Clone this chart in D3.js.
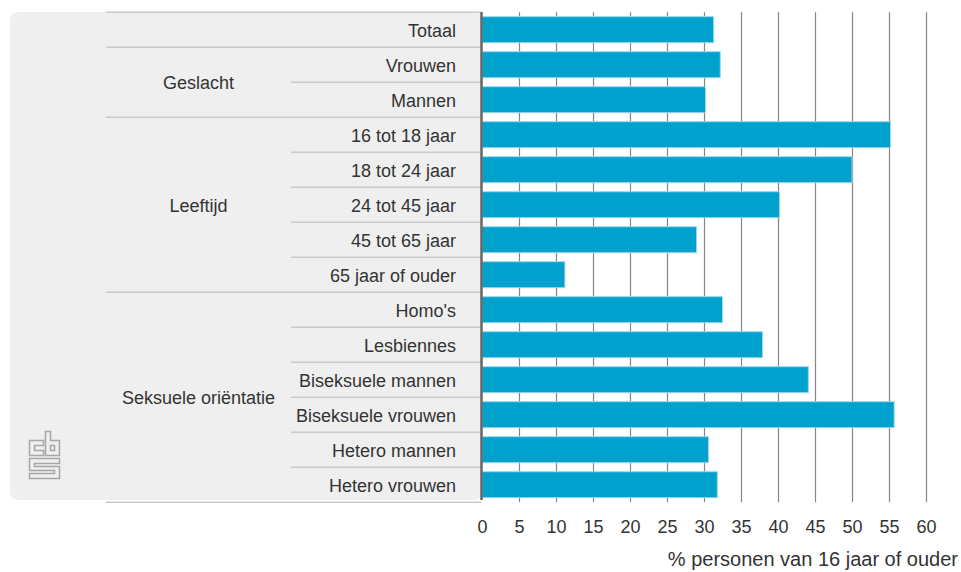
<!DOCTYPE html>
<html>
<head>
<meta charset="utf-8">
<script src="https://cdn.jsdelivr.net/npm/d3@7"></script>
<style>
	body { margin: 0; background: #fff; }
	svg { display: block; font-family: "Liberation Sans", Arial, sans-serif; }
</style>
</head>
<body>
<svg id="chart" width="961" height="572"></svg>
<script>
// data
const groups = [
	{ name: '', items: [ 'Totaal' ] },
	{ name: 'Geslacht', items: [ 'Vrouwen', 'Mannen' ] },
	{ name: 'Leeftijd', items: [ '16 tot 18 jaar', '18 tot 24 jaar', '24 tot 45 jaar', '45 tot 65 jaar', '65 jaar of ouder' ] },
	{ name: 'Seksuele oriëntatie', items: [ "Homo's", 'Lesbiennes', 'Biseksuele mannen', 'Biseksuele vrouwen', 'Hetero mannen', 'Hetero vrouwen' ] }
];
const categories = [ 'Totaal', 'Vrouwen', 'Mannen', '16 tot 18 jaar', '18 tot 24 jaar', '24 tot 45 jaar', '45 tot 65 jaar', '65 jaar of ouder',
	"Homo's", 'Lesbiennes', 'Biseksuele mannen', 'Biseksuele vrouwen', 'Hetero mannen', 'Hetero vrouwen' ];
const values = [ 31.3, 32.2, 30.2, 55.2, 50.0, 40.2, 29.0, 11.2, 32.5, 37.9, 44.1, 55.7, 30.6, 31.8 ];
const tickValues = [ 0, 5, 10, 15, 20, 25, 30, 35, 40, 45, 50, 55, 60 ];
const axisTitle = '% personen van 16 jaar of ouder';

const svg = d3.select('#chart');
const plotTop = 12.2, plotBottom = 502.2;
const labelRight = 456, groupLeft = 106, itemLeft = 291;
const textColor = '#333';

let x = d3.scaleLinear()
	.domain([ 0, 60 ])
	.range([ 482, 926 ]);
let y = d3.scaleBand()
	.domain(categories)
	.range([ plotTop, plotBottom ])
	.paddingInner(9 / 35)
	.paddingOuter(4.5 / 35);
let step = y.step();

// grey label panel
svg.append('rect')
	.attr('x', 10)
	.attr('y', 12)
	.attr('width', 472)
	.attr('height', 488)
	.attr('rx', 8)
	.style('fill', '#efefef');

// cbs logo
svg.append('path')
	.attr('transform', 'translate(29.5,431.5)')
	.attr('d', 'M14,9H0V24H14V19H5V14H14Z' +
		'M16,0H21V9H30V24H16Z M21,14H25V19H21Z' +
		'M0,27H30V32H5V35H30V47H0V42H25V39H0Z')
	.style('fill', 'none')
	.style('stroke', '#a6a6a6')
	.style('stroke-width', 1.5);

// separators between rows and groups
let lines = [ { y: plotTop, x1: groupLeft } ];
groups.forEach(function(g) {
	g.items.forEach(function(item, i) {
		let isLast = i == g.items.length - 1;
		lines.push({ y: y(item) - y.paddingOuter() * step + step, x1: isLast ? groupLeft : itemLeft });
	});
});
lines.forEach(function(l) {
	svg.append('line')
		.attr('x1', l.x1)
		.attr('x2', 481)
		.attr('y1', l.y)
		.attr('y2', l.y)
		.style('stroke', '#c9c9c9')
		.style('stroke-width', 1.5);
});

// row labels
svg.append('g')
	.selectAll('text')
	.data(categories)
	.join('text')
	.attr('x', labelRight)
	.attr('y', d => y(d) + y.bandwidth() / 2)
	.attr('dy', '0.38em')
	.attr('text-anchor', 'end')
	.style('font-size', '18px')
	.style('fill', textColor)
	.text(d => d);

// group labels
groups.filter(g => g.name != '').forEach(function(g) {
	let y0 = y(g.items[0]);
	let y1 = y(g.items[g.items.length - 1]) + y.bandwidth();
	svg.append('text')
		.attr('x', (groupLeft + itemLeft) / 2)
		.attr('y', (y0 + y1) / 2)
		.attr('dy', '0.38em')
		.attr('text-anchor', 'middle')
		.style('font-size', '18px')
		.style('fill', textColor)
		.text(g.name);
});

// vertical gridlines
let grid = svg.append('g')
	.attr('transform', 'translate(0,' + plotBottom + ')')
	.call(d3.axisBottom(x).tickValues(tickValues.slice(1)).tickSize(-(plotBottom - plotTop)).tickFormat(''));
grid.select('.domain').remove();
grid.selectAll('line')
	.style('stroke', '#858585')
	.style('stroke-width', 1.2);

// bars
svg.append('g')
	.selectAll('rect')
	.data(categories)
	.join('rect')
	.attr('x', x(0))
	.attr('y', d => y(d))
	.attr('width', (d, i) => x(values[i]) - x(0))
	.attr('height', y.bandwidth())
	.style('fill', '#00a1cd')
	.style('stroke', '#9fd8ec')
	.style('stroke-width', 1);

// value axis line
svg.append('line')
	.attr('x1', 481.5)
	.attr('x2', 481.5)
	.attr('y1', 12)
	.attr('y2', 500)
	.style('stroke', '#666')
	.style('stroke-width', 2.5);

// tick labels
let axis = svg.append('g')
	.attr('transform', 'translate(0,' + plotBottom + ')')
	.call(d3.axisBottom(x).tickValues(tickValues).tickSize(0).tickPadding(18));
axis.select('.domain').remove();
axis.selectAll('text')
	.style('font-family', '"Liberation Sans", Arial, sans-serif')
	.style('font-size', '18px')
	.style('fill', textColor);

svg.append('text')
	.attr('x', 958)
	.attr('y', 559)
	.attr('dy', '0.36em')
	.attr('text-anchor', 'end')
	.style('font-size', '20px')
	.style('fill', textColor)
	.text(axisTitle);
</script>
</body>
</html>
